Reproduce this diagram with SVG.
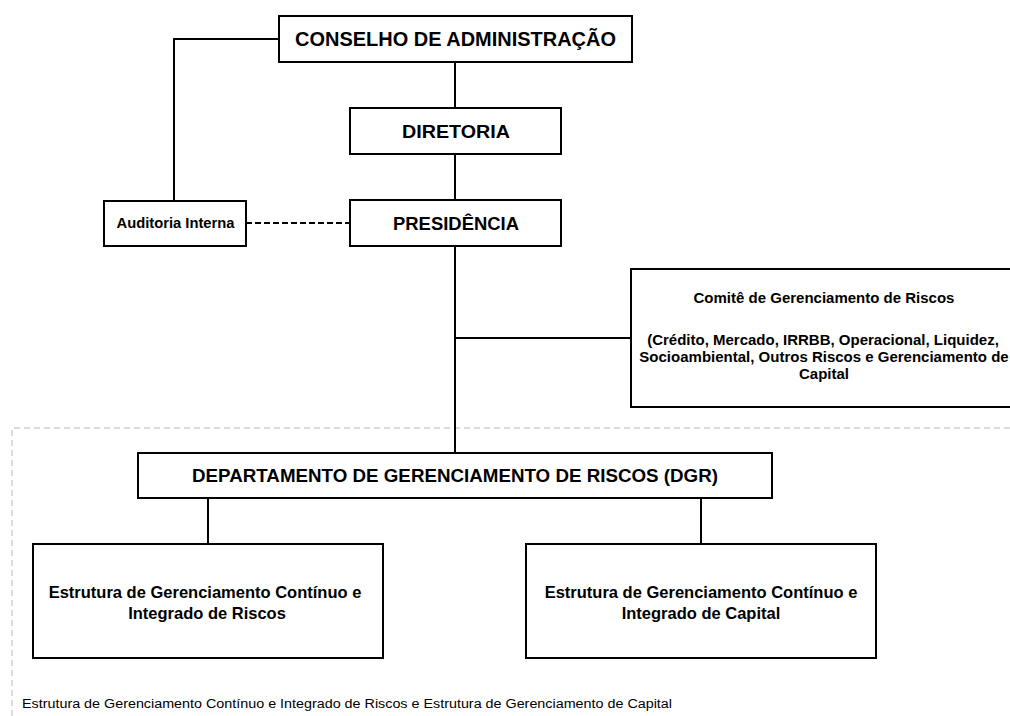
<svg xmlns="http://www.w3.org/2000/svg" width="1010" height="716" viewBox="0 0 1010 716">
<style>
.box{fill:#fff;stroke:#000;stroke-width:2}
.ln{fill:none;stroke:#000;stroke-width:2}
.t{font-family:"Liberation Sans",Arial,sans-serif;font-weight:bold;fill:#000;text-anchor:middle}
.cap{font-family:"Liberation Sans",Arial,sans-serif;fill:#000;font-size:12.5px}
</style>
<rect width="1010" height="716" fill="#fff"/>
<g id="frame">
<path d="M12,716 V428 H1010" fill="none" stroke="#b8b8b8" stroke-width="1" stroke-dasharray="6 4"/>
</g>
<g id="connectors">
<path class="ln" d="M279,39 H174 V201"/>
<path class="ln" d="M455,62 V108"/>
<path class="ln" d="M455,154 V200"/>
<path class="ln" d="M455,246 V453"/>
<path class="ln" d="M455,338 H631"/>
<path class="ln" d="M246,223 H350" stroke-dasharray="6 3"/>
<path class="ln" d="M208,498 V544"/>
<path class="ln" d="M701,498 V544"/>
</g>
<g id="conselho">
<rect class="box" x="279" y="16" width="353" height="46"/>
<text class="t" x="455.5" y="46" font-size="20" textLength="321" lengthAdjust="spacingAndGlyphs">CONSELHO DE ADMINISTRAÇÃO</text>
</g>
<g id="diretoria">
<rect class="box" x="350" y="108" width="211" height="46"/>
<text class="t" x="456" y="137.5" font-size="19" textLength="108" lengthAdjust="spacingAndGlyphs">DIRETORIA</text>
</g>
<g id="presidencia">
<rect class="box" x="350" y="200" width="211" height="46"/>
<text class="t" x="456" y="230" font-size="19" textLength="126" lengthAdjust="spacingAndGlyphs">PRESIDÊNCIA</text>
</g>
<g id="auditoria">
<rect class="box" x="104" y="201" width="142" height="45"/>
<text class="t" x="175.5" y="227.5" font-size="14" textLength="118" lengthAdjust="spacingAndGlyphs">Auditoria Interna</text>
</g>
<g id="comite">
<rect class="box" x="631" y="269" width="390" height="138"/>
<text class="t" x="824" y="303" font-size="15">Comitê de Gerenciamento de Riscos</text>
<text class="t" x="823" y="344.5" font-size="15">(Crédito, Mercado, IRRBB, Operacional, Liquidez,</text>
<text class="t" x="824" y="361.5" font-size="15">Socioambiental, Outros Riscos e Gerenciamento de</text>
<text class="t" x="824" y="378.5" font-size="15">Capital</text>
</g>
<g id="dgr">
<rect class="box" x="138" y="453" width="634" height="45"/>
<text class="t" x="455" y="482" font-size="18.5" textLength="526" lengthAdjust="spacingAndGlyphs">DEPARTAMENTO DE GERENCIAMENTO DE RISCOS (DGR)</text>
</g>
<g id="riscos">
<rect class="box" x="33" y="544" width="350" height="114"/>
<text class="t" x="205" y="598" font-size="16.5">Estrutura de Gerenciamento Contínuo e</text>
<text class="t" x="207" y="619" font-size="16.5">Integrado de Riscos</text>
</g>
<g id="capital">
<rect class="box" x="526" y="544" width="350" height="114"/>
<text class="t" x="701" y="598" font-size="16.5">Estrutura de Gerenciamento Contínuo e</text>
<text class="t" x="701" y="619" font-size="16.5">Integrado de Capital</text>
</g>
<g id="caption">
<text class="cap" x="22" y="708" textLength="650" lengthAdjust="spacingAndGlyphs">Estrutura de Gerenciamento Contínuo e Integrado de Riscos e Estrutura de Gerenciamento de Capital</text>
</g>
</svg>
